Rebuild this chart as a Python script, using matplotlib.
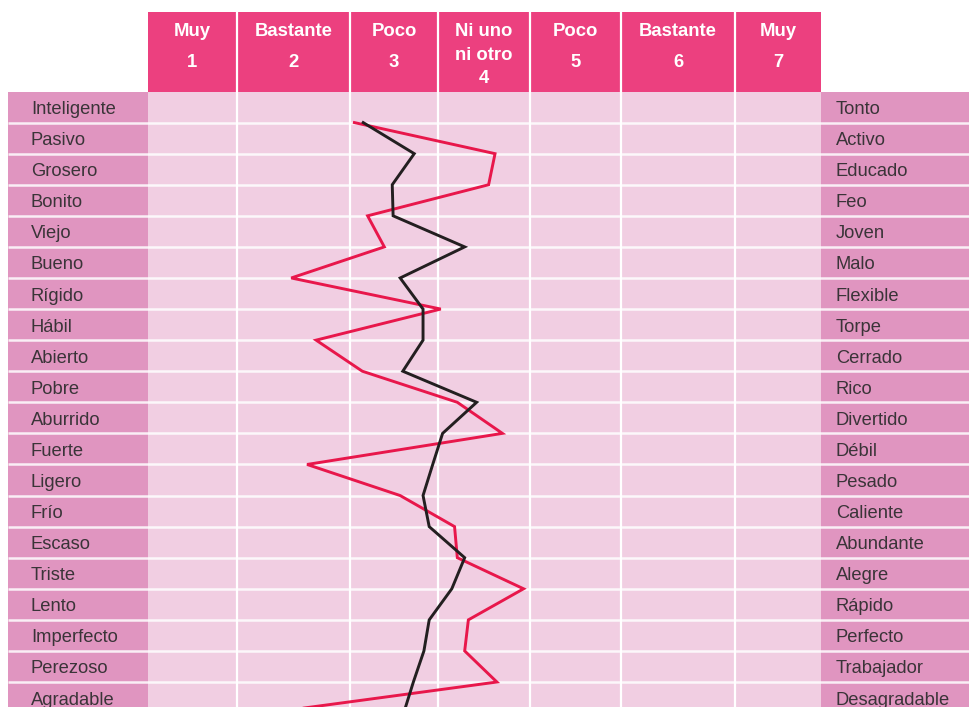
import numpy as np
import matplotlib
matplotlib.use("Agg")
import matplotlib.pyplot as plt
from matplotlib.patches import Rectangle

plt.rcParams['font.family'] = ['Liberation Sans', 'DejaVu Sans']

# escala de 7 puntos
header_words = ['Muy', 'Bastante', 'Poco', 'Ni uno\nni otro', 'Poco', 'Bastante', 'Muy']
header_nums = ['1', '2', '3', '4', '5', '6', '7']

left_labels = ['Inteligente', 'Pasivo', 'Grosero', 'Bonito', 'Viejo', 'Bueno', 'Rígido',
               'Hábil', 'Abierto', 'Pobre', 'Aburrido', 'Fuerte', 'Ligero', 'Frío',
               'Escaso', 'Triste', 'Lento', 'Imperfecto', 'Perezoso', 'Agradable']
right_labels = ['Tonto', 'Activo', 'Educado', 'Feo', 'Joven', 'Malo', 'Flexible',
                'Torpe', 'Cerrado', 'Rico', 'Divertido', 'Débil', 'Pesado', 'Caliente',
                'Abundante', 'Alegre', 'Rápido', 'Perfecto', 'Trabajador', 'Desagradable']

# perfiles (valor en la escala 1-7)
perfil_rojo = [2.55, 4.12, 4.05, 2.70, 2.89, 1.98, 3.53, 2.20, 2.64, 3.71,
               4.20, 2.12, 3.07, 3.68, 3.71, 4.43, 3.83, 3.79, 4.14, 1.76]
perfil_negro = [2.65, 3.23, 2.98, 2.99, 3.79, 3.07, 3.33, 3.33, 3.10, 3.92,
                3.55, 3.44, 3.33, 3.40, 3.79, 3.65, 3.40, 3.34, 3.22, 3.11]

C_HEAD = '#ec407f'
C_LAB = '#e095c0'
C_CELL = '#f1cee2'
C_RED = '#e8174b'
C_BLACK = '#231f20'
C_TXT = '#3a3438'

# anchura desigual de las columnas (escala -> pixeles)
ancla_val = np.array([-1.5, 0.5, 1.5, 2.5, 3.5, 4.5, 5.5, 6.5, 7.5, 8.5, 9.5])
ancla_px = np.array([-132, 148, 237, 350, 438, 530, 621, 735, 821, 970, 1119])

def fwd(v):
    return np.interp(v, ancla_val, ancla_px)

def inv(p):
    return np.interp(p, ancla_px, ancla_val)

ROW_H = 31.08
TOP = 91.5

def py(p):
    return (p - TOP) / ROW_H

n = len(left_labels)
fig = plt.figure(figsize=(9.7, 7.07), dpi=100)
ax = fig.add_axes([0, 0, 1, 1])
ax.set_xscale('function', functions=(fwd, inv))
ax.set_xlim(inv(0), inv(970))
ax.set_ylim(py(707), py(0))
ax.axis('off')

head_top = py(12)
for k in range(1, 8):
    ax.add_patch(Rectangle((k - 0.5, head_top), 1, -head_top, color=C_HEAD, lw=0))
ax.add_patch(Rectangle((0.5, 0), 7, n, color=C_CELL, lw=0))
ax.add_patch(Rectangle((-0.5, 0), 1, n, color=C_LAB, lw=0))
ax.add_patch(Rectangle((7.5, 0), 2, n, color=C_LAB, lw=0))

ax.hlines(np.arange(1, n + 1), -0.5, 9.5, color='white', lw=1.8, alpha=0.85)
ax.vlines(np.arange(1.5, 7.5, 1), head_top, n, color='white', lw=1.6)

for k in range(7):
    lines = header_words[k].split('\n')
    for j, w in enumerate(lines):
        ax.text(k + 1, py(36 + 24 * j), w, ha='center', va='baseline',
                color='white', fontsize=13.3, fontweight='bold')
    ynum = py(66.7) if len(lines) == 1 else py(83.3)
    ax.text(k + 1, ynum, header_nums[k], ha='center', va='baseline',
            color='white', fontsize=13.3, fontweight='bold')

for i in range(n):
    ax.annotate(left_labels[i], xy=(-0.5, i + 0.5), xytext=(23, -7),
                textcoords='offset pixels', ha='left', va='baseline',
                color=C_TXT, fontsize=13.2)
    ax.annotate(right_labels[i], xy=(7.5, i + 0.5), xytext=(15, -7),
                textcoords='offset pixels', ha='left', va='baseline',
                color=C_TXT, fontsize=13.2)

filas = np.arange(1, n + 1)
ax.plot(perfil_rojo, filas, color=C_RED, lw=2.1, solid_joinstyle='miter', zorder=5)
ax.plot(perfil_negro, filas, color=C_BLACK, lw=2.1, solid_joinstyle='miter', zorder=6)

fig.savefig('out.png', dpi=100)
